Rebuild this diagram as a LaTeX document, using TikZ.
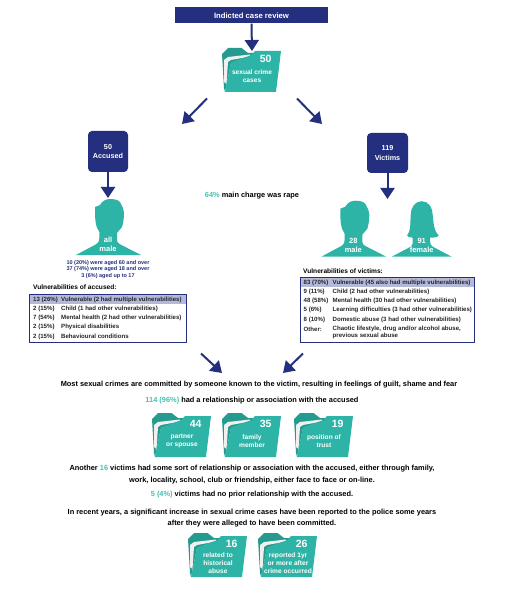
\documentclass[tikz,border=0pt]{standalone}
\usepackage{fontspec}
\setmainfont{Liberation Sans}
\usetikzlibrary{arrows.meta}
\definecolor{navy}{HTML}{24307F}
\definecolor{teal}{HTML}{2DB4A7}
\definecolor{tealdark}{HTML}{249B8E}
\definecolor{tealtext}{HTML}{45C1B3}
\definecolor{rowhi}{HTML}{B4B9DA}
\tikzset{
 x=1pt,y=-1pt,
 arr/.style={navy,line width=2pt,-{Triangle[length=11pt,width=14pt]}},
 body/.style={font=\fontsize{7.4}{11.5}\selectfont\bfseries,text=black,align=center,inner sep=0pt},
 foldnum/.style={font=\fontsize{10.5}{11}\selectfont\bfseries,text=white,inner sep=0pt},
 foldlab/.style={font=\fontsize{6.6}{8}\selectfont\bfseries,text=white,align=center,inner sep=0pt},
 tabtxt/.style={font=\fontsize{6.1}{7}\selectfont\bfseries,text=black!85,anchor=base west,yshift=-2pt,inner sep=0pt,align=left},
 tabtitle/.style={font=\fontsize{6.6}{7}\selectfont\bfseries,text=black,anchor=west,inner sep=0pt},
 navybox/.style={fill=navy,rounded corners=4pt,text=white,font=\fontsize{7.2}{9.5}\selectfont\bfseries,align=center,inner sep=0pt},
 headlab/.style={font=\fontsize{7.5}{9.4}\selectfont\bfseries,text=white,align=center,inner sep=0pt},
}
\newcommand{\folderfig}[6]{% name,x,y,number,label,laby
 \begin{scope}[shift={(#2,#3)}]
  \coordinate (#1) at (29.5,22);
  \fill[tealdark] (0,6) -- (6,0) -- (19.5,0) -- (26,5) -- (31,5) -- (33,8) -- (9,15) -- (3,44) -- (2,40) -- cycle;
  \fill[white!94!black] (2,12) -- (6,9) -- (28,6.5) -- (28,8.5) -- (9,12) -- (6,14) -- (4.5,36) -- (2,34) -- cycle;
  \fill[teal] (3,44) -- (54,44) -- (59,3) -- (33,3) -- (29.5,7) -- (9,14.5) -- cycle;
  \node[foldnum] (#1-num) at (43.7,11) {#4};
  \node[foldlab] (#1-lab) at (30,#6) {#5};
 \end{scope}}
\newcommand{\malehead}[2]{%
 \fill[teal,shift={(#1,#2)}] (-32,0) -- (-12,-10.7) .. controls (-8.7,-13) and (-8.7,-15) .. (-8.7,-17) -- (-8.7,-23)
   -- (-11.3,-28) .. controls (-12.5,-33) and (-13,-36) .. (-13,-40) -- (-13,-48) -- (-8,-50)
   .. controls (-6,-54) and (-2,-56) .. (2,-56) .. controls (9,-56) and (12,-54) .. (13,-51) .. controls (15,-47) and (16,-45) .. (16,-42)
   .. controls (16,-36) and (15,-31) .. (14,-28) -- (9,-22) -- (9,-15) .. controls (9,-13) and (10,-12) .. (12,-10.7) -- (33,0) -- cycle;}
\newcommand{\femalehead}[2]{%
 \fill[teal,shift={(#1,#2)}] (-30,0) -- (-11,-10) .. controls (-9,-11.5) and (-9,-13) .. (-9,-15) -- (-9,-19)
   .. controls (-12,-19) and (-15,-20) .. (-14.5,-21.5) .. controls (-11,-25) and (-11.5,-33) .. (-11,-41.7)
   .. controls (-11,-49) and (-7,-55.5) .. (0,-55.5)
   .. controls (7,-55.5) and (11,-49) .. (11,-41.7) .. controls (12,-33) and (12,-26) .. (17,-21)
   .. controls (16,-19.5) and (12,-19) .. (8.5,-19) -- (8.5,-15) .. controls (8.5,-13) and (9,-11.5) .. (11,-10) -- (30,0) -- cycle;}
\begin{document}
\begin{tikzpicture}
\useasboundingbox (0,0) rectangle (518,601);
\fill[white] (0,0) rectangle (518,601);
% top
\node[fill=navy,minimum width=153pt,minimum height=16pt,inner sep=0pt,text=white,font=\fontsize{7.7}{8}\selectfont\bfseries] (hdr) at (251.5,15.5) {Indicted case review};
\folderfig{cases}{222}{48}{50}{sexual crime\\cases}{28}
\coordinate (casetip) at (252,51);
\draw[arr] (hdr.south) -- (casetip);
\coordinate (aL0) at (207,98.5); \coordinate (aL1) at (182,124);
\coordinate (aR0) at (297,98.5); \coordinate (aR1) at (322,124);
\draw[arr] (aL0) -- (aL1);
\draw[arr] (aR0) -- (aR1);
% boxes
\node[navybox,minimum width=40pt,minimum height=41pt] (acc) at (108,151.5) {50\\Accused};
\node[navybox,minimum width=41pt,minimum height=40pt] (vic) at (387.5,153) {119\\Victims};
\coordinate (acctip) at (108,198); \coordinate (victip) at (387.5,199);
\draw[arr] (acc.south) -- (acctip);
\draw[arr] (vic.south) -- (victip);
\node[body] (rape) at (252,196) {\textcolor{tealtext}{64\%} main charge was rape};
% heads
\malehead{108}{255}
\node[headlab] (allmale) at (108,244.5) {all\\male};
\malehead{353.3}{256.7}
\node[headlab] (m28) at (353.3,245.5) {28\\male};
\femalehead{421.7}{256.7}
\node[headlab] (f91) at (421.7,245.5) {91\\female};
% ages
\node[font=\fontsize{5.5}{6.9}\selectfont\bfseries,text=navy,align=center,inner sep=0pt] (ages) at (108,269.5) {10 (20\%) were aged 60 and over\\37 (74\%) were aged 18 and over\\3 (6\%) aged up to 17};
% accused table
\node[tabtitle] (tat) at (33,287.5) {Vulnerabilities of accused:};
\fill[rowhi] (29.5,294.5) rectangle (186.5,304);
\draw[navy,line width=1pt] (29.5,294.5) rectangle (186.5,342);
\node[tabtxt] (a1a) at (33,299) {13 (26\%)}; \node[tabtxt] (a1b) at (61,299) {Vulnerable (2 had multiple vulnerabilities)};
\node[tabtxt] (a2a) at (33,308) {2 (15\%)};  \node[tabtxt] (a2b) at (61,308) {Child (1 had other vulnerabilities)};
\node[tabtxt] (a3a) at (33,317.5) {7 (54\%)}; \node[tabtxt] (a3b) at (61,317.5) {Mental health (2 had other vulnerabilities)};
\node[tabtxt] (a4a) at (33,326.5) {2 (15\%)}; \node[tabtxt] (a4b) at (61,326.5) {Physical disabilities};
\node[tabtxt] (a5a) at (33,336) {2 (15\%)}; \node[tabtxt] (a5b) at (61,336) {Behavioural conditions};
% victims table
\node[tabtitle] (tvt) at (303,271) {Vulnerabilities of victims:};
\fill[rowhi] (300.5,277.5) rectangle (474,287);
\draw[navy,line width=1pt] (300.5,277.5) rectangle (474,342);
\node[tabtxt] (v1a) at (303.5,282) {83 (70\%)}; \node[tabtxt] (v1b) at (332.5,282) {Vulnerable (45 also had multiple vulnerabilities)};
\node[tabtxt] (v2a) at (303.5,291) {9 (11\%)}; \node[tabtxt] (v2b) at (332.5,291) {Child (2 had other vulnerabilities)};
\node[tabtxt] (v3a) at (303.5,300.5) {48 (58\%)}; \node[tabtxt] (v3b) at (332.5,300.5) {Mental health (30 had other vulnerabilities)};
\node[tabtxt] (v4a) at (303.5,309.5) {5 (6\%)}; \node[tabtxt] (v4b) at (332.5,309.5) {Learning difficulties (3 had other vulnerabilities)};
\node[tabtxt] (v5a) at (303.5,319) {8 (10\%)}; \node[tabtxt] (v5b) at (332.5,319) {Domestic abuse (3 had other vulnerabilities)};
\node[tabtxt] (v6a) at (303.5,329) {Other:}; \node[tabtxt,anchor=north west] (v6b) at (332.5,323.5) {Chaotic lifestyle, drug and/or alcohol abuse,\\previous sexual abuse};
% converge
\coordinate (cL0) at (201,353.5); \coordinate (cL1) at (222,373);
\coordinate (cR0) at (303,353.5); \coordinate (cR1) at (283,373);
\draw[arr] (cL0) -- (cL1);
\draw[arr] (cR0) -- (cR1);
% body text
\node[body] (most) at (259,385) {Most sexual crimes are committed by someone known to the victim, resulting in feelings of guilt, shame and fear};
\node[body] (rel) at (252,401) {\textcolor{tealtext}{114 (96\%)} had a relationship or association with the accused};
\folderfig{fa}{152}{413}{44}{partner\\or spouse}{28}
\folderfig{fb}{222}{413}{35}{family\\member}{28}
\folderfig{fc}{294}{413}{19}{position of\\trust}{28}
\node[body] (another) at (252,474.5) {Another \textcolor{tealtext}{16} victims had some sort of relationship or association with the accused, either through family,\\work, locality, school, club or friendship, either face to face or on-line.};
\node[body] (five) at (252,495) {\textcolor{tealtext}{5 (4\%)} victims had no prior relationship with the accused.};
\node[body] (recent) at (252,518) {In recent years, a significant increase in sexual crime cases have been reported to the police some years\\after they were alleged to have been committed.};
\folderfig{fd}{188}{533}{16}{related to\\historical\\abuse}{30}
\folderfig{fe}{258}{533}{26}{reported 1yr\\or more after\\crime occurred}{30}
\end{tikzpicture}
\end{document}
